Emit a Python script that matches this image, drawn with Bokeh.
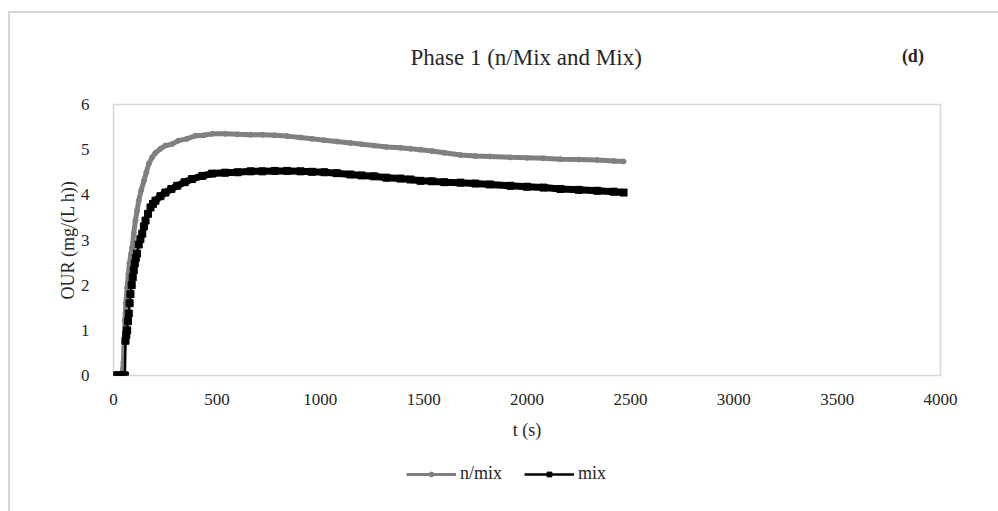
from bokeh.plotting import figure
from bokeh.layouts import column
from bokeh.models import (ColumnDataSource, Legend, LegendItem, FixedTicker,
                          Range1d)
from bokeh.core.properties import value
from bokeh.embed import file_html
from bokeh.resources import INLINE

# OUR time series, phase 1
t_nmix = [0, 10, 20, 30, 40, 48, 55, 60, 66, 72, 77, 84, 90, 98, 106, 114,
          122, 134, 147, 159, 171, 187, 203, 227, 251, 282, 314, 355, 397,
          437, 477, 540, 600, 663, 720, 780, 840, 904, 960, 1020, 1080, 1146,
          1200, 1260, 1320, 1388, 1436, 1485, 1540, 1600, 1678, 1750, 1820,
          1920, 2000, 2080, 2162, 2250, 2340, 2420, 2467]
our_nmix = [0, 0, 0, 0, 0, 0.3, 1.22, 1.6, 1.95, 2.25, 2.48, 2.68, 2.83,
            3.15, 3.43, 3.65, 3.87, 4.1, 4.31, 4.5, 4.69, 4.83, 4.93, 5.02,
            5.09, 5.12, 5.2, 5.24, 5.31, 5.32, 5.35, 5.35, 5.34, 5.33, 5.33,
            5.32, 5.3, 5.27, 5.24, 5.21, 5.18, 5.15, 5.12, 5.09, 5.06, 5.04,
            5.02, 5.0, 4.97, 4.93, 4.88, 4.86, 4.85, 4.83, 4.82, 4.81, 4.79,
            4.78, 4.77, 4.75, 4.74]

t_mix = [0, 10, 20, 30, 40, 50, 55, 58, 62, 66, 70, 74, 78, 82, 88, 93, 98,
         103, 108, 114, 122, 130, 139, 147, 155, 167, 179, 191, 203, 227,
         251, 280, 308, 344, 380, 430, 477, 540, 600, 663, 720, 780, 840,
         904, 960, 1020, 1080, 1146, 1200, 1260, 1320, 1388, 1436, 1485,
         1540, 1600, 1678, 1750, 1820, 1920, 2000, 2080, 2162, 2250, 2340,
         2420, 2467]
our_mix = [0, 0, 0, 0, 0, 0, 0, 0.77, 0.9, 1.0, 1.2, 1.37, 1.6, 1.8, 2.0,
           2.17, 2.33, 2.48, 2.6, 2.7, 2.9, 3.02, 3.14, 3.3, 3.43, 3.58,
           3.72, 3.8, 3.87, 3.97, 4.05, 4.13, 4.2, 4.28, 4.35, 4.42, 4.47,
           4.49, 4.5, 4.52, 4.52, 4.53, 4.53, 4.52, 4.51, 4.5, 4.48, 4.45,
           4.43, 4.41, 4.38, 4.36, 4.34, 4.31, 4.3, 4.28, 4.27, 4.25, 4.23,
           4.2, 4.18, 4.16, 4.13, 4.11, 4.09, 4.07, 4.05]

x_ticks = [0, 500, 1000, 1500, 2000, 2500, 3000, 3500, 4000]
y_ticks = [0, 1, 2, 3, 4, 5, 6]
series_names = ["n/mix", "mix"]
chart_title = "Phase 1 (n/Mix and Mix)"
panel_tag = "(d)"

FONT = "Liberation Serif"
TEXT = "#262626"
GRAY = "#808080"
EDGE = "#d6d6d6"
WIDTH = 988


def strip(height, y_range):
    """A frame-only strip used for the header and the legend row."""
    f = figure(width=WIDTH, height=height, output_backend="svg",
               toolbar_location=None, x_axis_type=None, y_axis_type=None,
               x_range=Range1d(0, WIDTH), y_range=y_range, min_border=0)
    f.outline_line_color = None
    f.background_fill_color = "white"
    f.border_fill_color = "white"
    f.grid.visible = False
    return f


# header: chart title and panel tag
head = strip(81, Range1d(0, 81))
head.text(x=[493], y=[37], text=[chart_title], text_font=value(FONT),
          text_font_size="23px", text_color=TEXT, text_align="center",
          text_baseline="middle")
head.text(x=[955], y=[39], text=[panel_tag], text_font=value(FONT),
          text_font_size="18px", text_font_style="bold", text_color=TEXT,
          text_align="center", text_baseline="middle")

# main plot
p = figure(frame_width=827, frame_height=271, output_backend="svg",
           toolbar_location=None,
           x_range=Range1d(0, 4000), y_range=Range1d(0, 6),
           min_border_left=103, min_border_right=58,
           min_border_top=10, min_border_bottom=70)
p.background_fill_color = "white"
p.border_fill_color = "white"
p.outline_line_color = EDGE
p.outline_line_width = 1.5
p.xgrid.visible = False
p.ygrid.visible = False

for ax in (p.xaxis[0], p.yaxis[0]):
    ax.axis_line_color = None
    ax.major_tick_line_color = None
    ax.minor_tick_line_color = None
    ax.major_label_text_font = FONT
    ax.major_label_text_font_size = "17px"
    ax.major_label_text_color = TEXT
    ax.axis_label_text_font = FONT
    ax.axis_label_text_font_size = "18px"
    ax.axis_label_text_font_style = "normal"
    ax.axis_label_text_color = TEXT

p.xaxis[0].ticker = FixedTicker(ticks=x_ticks)
p.yaxis[0].ticker = FixedTicker(ticks=y_ticks)
p.xaxis[0].axis_label = "t (s)"
p.yaxis[0].axis_label = "OUR (mg/(L h))"
p.xaxis[0].major_label_standoff = 12
p.xaxis[0].axis_label_standoff = 12
p.yaxis[0].major_label_standoff = 18
p.yaxis[0].axis_label_standoff = 0

src_nmix = ColumnDataSource(dict(t=t_nmix, our=our_nmix))
src_mix = ColumnDataSource(dict(t=t_mix, our=our_mix))

# n/mix: dense grey points merging into a grey band
p.line("t", "our", source=src_nmix, line_color=GRAY, line_width=5)
p.scatter("t", "our", source=src_nmix, marker="circle", size=5,
          fill_color=GRAY, line_color=GRAY)

# mix: black squares; beyond the initial rise the samples merge into a band
band = [i for i, t in enumerate(t_mix) if t >= 200]
src_band = ColumnDataSource(dict(t=[t_mix[i] for i in band],
                                 our=[our_mix[i] for i in band]))
p.line("t", "our", source=src_band, line_color="black", line_width=7)
p.line("t", "our", source=src_mix, line_color="black", line_width=2.5)
p.scatter("t", "our", source=src_mix, marker="square", size=7,
          fill_color="black", line_color="black")

# legend row: key glyphs share the series sources; the strip's y range lies
# above every OUR value, so only the legend keys show
foot = strip(66, Range1d(100, 166))
k1l = foot.line("t", "our", source=src_nmix, line_color=GRAY, line_width=3)
k1m = foot.scatter("t", "our", source=src_nmix, marker="circle",
                   fill_color=GRAY, line_color=GRAY)
k2l = foot.line("t", "our", source=src_mix, line_color="black", line_width=2.5)
k2m = foot.scatter("t", "our", source=src_mix, marker="square",
                   fill_color="black", line_color="black")
legend = Legend(items=[LegendItem(label=series_names[0], renderers=[k1l, k1m]),
                       LegendItem(label=series_names[1], renderers=[k2l, k2m])],
                orientation="horizontal", location=(293, 27),
                glyph_width=50, glyph_height=12, label_standoff=4, spacing=22,
                label_text_font=FONT, label_text_font_size="18px",
                label_text_color=TEXT, border_line_color=None,
                background_fill_alpha=0, margin=0, padding=4)
foot.add_layout(legend)

layout = column(head, p, foot, spacing=0)
# chart-area border on the top and left
layout.styles = {"margin-left": "8px", "margin-top": "11px",
                 "border-left": f"2px solid {EDGE}",
                 "border-top": f"2px solid {EDGE}"}

open("out.html", "w").write(file_html(layout, INLINE))
